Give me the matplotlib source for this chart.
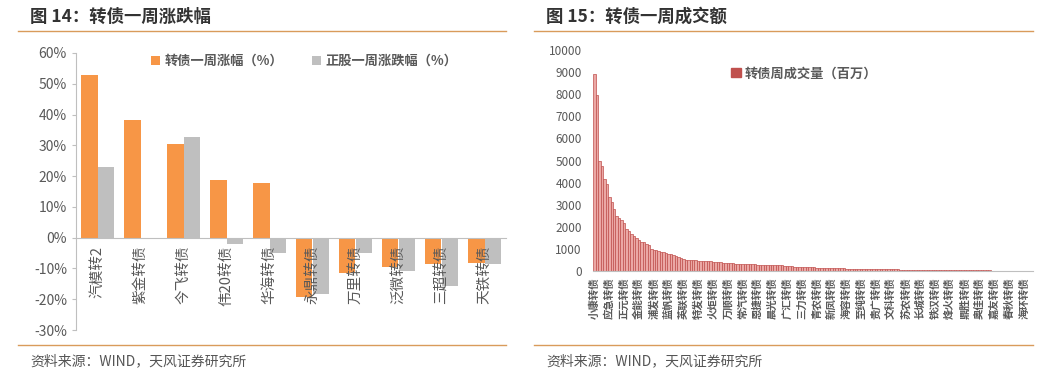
import matplotlib.pyplot as plt
from matplotlib.lines import Line2D
from matplotlib.patches import Patch
import numpy as np

plt.rcParams['font.family'] = ['Noto Sans CJK SC', 'DejaVu Sans']

# ---- 左图数据：转债一周涨跌幅 ----
bonds_left = ['汽模转2', '紫金转债', '今飞转债', '伟20转债', '华海转债',
              '永鼎转债', '万里转债', '泛微转债', '三超转债', '天铁转债']
bond_chg = [52.7, 38.1, 30.3, 18.6, 17.9, -19.2, -11.4, -9.4, -8.4, -8.1]
stock_chg = [22.9, -0.3, 32.7, -2.0, -5.1, -18.4, -4.9, -10.8, -15.7, -8.4]
yticks_left = [-30, -20, -10, 0, 10, 20, 30, 40, 50, 60]

# ---- 右图数据：转债周成交额（百万） ----
volume = [8900, 7950, 5000, 4740, 4180, 3950, 3330, 3100, 2810, 2470,
          2400, 2320, 2180, 1900, 1820, 1680, 1600, 1500, 1400, 1330,
          1290, 1220, 1180, 1000, 960, 950, 920, 880, 850, 800,
          780, 750, 720, 680, 640, 600, 560, 520, 500, 490,
          480, 480, 470, 460, 460, 450, 440, 430, 420, 410,
          400, 390, 380, 370, 360, 350, 340, 330, 325, 320,
          315, 310, 305, 300, 300, 295, 290, 285, 280, 280,
          275, 270, 265, 262, 260, 258, 255, 230, 225, 220,
          210, 200, 195, 190, 185, 180, 175, 170, 165, 160,
          150, 145, 140, 138, 135, 130, 128, 125, 122, 120,
          118, 115, 112, 110, 105, 100, 95, 92, 90, 88,
          86, 85, 84, 82, 80, 78, 77, 76, 75, 74,
          72, 70, 69, 68, 67, 66, 65, 64, 63, 62,
          61, 60, 58, 56, 55, 54, 52, 50, 48, 47,
          46, 45, 44, 42, 40, 38, 37, 36, 35, 34,
          33, 32, 31, 30, 29, 28, 27, 26, 25, 24,
          23, 22, 21, 20, 18, 17, 16, 15, 14, 13,
          12, 11, 10, 10, 9, 9, 8, 8]
tick_names = ['小康转债', '应急转债', '正元转债', '金能转债', '浦发转债', '蓝帆转债',
              '英联转债', '特发转债', '火炬转债', '万顺转债', '常汽转债', '恩捷转债',
              '晨光转债', '广汇转债', '三力转债', '青农转债', '新凤转债', '海容转债',
              '至纯转债', '贵广转债', '文科转债', '苏农转债', '长城转债', '铁汉转债',
              '烽火转债', '鼎胜转债', '奥佳转债', '嘉友转债', '春秋转债', '海环转债']
tick_step = 6

W, H = 1057, 377
fig = plt.figure(figsize=(W / 100, H / 100), dpi=100)

def box(x0, y0, x1, y1):
    # 像素坐标(左上原点) -> figure 坐标
    return [x0 / W, 1 - y1 / H, (x1 - x0) / W, (y1 - y0) / H]

line_c = '#D99B5B'
txt_c = '#595959'
axis_c = '#BFBFBF'

# 标题、分隔线、资料来源
for x0, x1, title in [(18, 506, '图 14：转债一周涨跌幅'), (534, 1033, '图 15：转债一周成交额')]:
    fig.text((x0 + 12) / W, 1 - 17 / H, title, fontsize=12.5, fontweight='bold',
             color='#333333', va='center')
    fig.add_artist(Line2D([x0 / W, x1 / W], [1 - 31 / H] * 2, color=line_c, lw=1))
    fig.add_artist(Line2D([x0 / W, x1 / W], [1 - 345 / H] * 2, color=line_c, lw=1))
    fig.text((x0 + 12) / W, 1 - 361 / H, '资料来源：WIND，天风证券研究所', fontsize=10,
             color='#555555', va='center')

# ---- 左图 ----
ax1 = fig.add_axes(box(76, 53, 506, 330))
x = np.arange(len(bonds_left))
w = 0.39
ax1.bar(x - w / 2, bond_chg, w, color='#F79646', label='转债一周涨幅（%）')
ax1.bar(x + w / 2, stock_chg, w, color='#BFBFBF', label='正股一周涨跌幅（%）')
ax1.set_xlim(-0.5, len(bonds_left) - 0.5)
ax1.set_ylim(-30, 60)
ax1.set_yticks(yticks_left)
ax1.set_yticklabels([f'{v}%' for v in yticks_left])
ax1.spines['top'].set_visible(False)
ax1.spines['right'].set_visible(False)
ax1.spines['bottom'].set_position(('data', 0))
ax1.spines['bottom'].set_color(axis_c)
ax1.spines['left'].set_color(axis_c)
ax1.set_xticks(x)
ax1.set_xticklabels(bonds_left, rotation=90, fontsize=10.5, color=txt_c)
ax1.tick_params(axis='x', length=0, pad=6)
ax1.tick_params(axis='y', length=3, colors=axis_c, labelcolor=txt_c, labelsize=10)
leg1 = ax1.legend(loc='upper center', bbox_to_anchor=(0.53, 1.04), ncol=2, frameon=False,
                  handlelength=0.7, handleheight=0.7, handletextpad=0.3, columnspacing=2.2,
                  prop={'size': 9.5, 'weight': 'bold'})
for t in leg1.get_texts():
    t.set_color(txt_c)

# ---- 右图 ----
ax2 = fig.add_axes(box(593, 50, 1033, 271))
xi = np.arange(len(volume))
ax2.bar(xi, volume, 1.0, facecolor='#EBA8A5', edgecolor='#C0504D', linewidth=0.5)
ax2.set_xlim(-0.6, len(volume) - 0.4)
ax2.set_ylim(0, 10000)
ax2.set_yticks(range(0, 10001, 1000))
for s in ['top', 'right', 'left']:
    ax2.spines[s].set_visible(False)
ax2.spines['bottom'].set_color(axis_c)
ax2.set_xticks(xi[::tick_step][:len(tick_names)])
ax2.set_xticklabels(tick_names, rotation=90, fontsize=7.5, fontweight='bold', color=txt_c)
ax2.tick_params(axis='x', length=0, pad=5)
ax2.tick_params(axis='y', length=0, labelcolor=txt_c, labelsize=8.5, pad=8)
leg2 = ax2.legend(handles=[Patch(color='#C0504D', label='转债周成交量（百万）')],
                  loc='upper center', bbox_to_anchor=(0.48, 0.98), frameon=False,
                  handlelength=0.7, handleheight=0.7, handletextpad=0.3,
                  prop={'size': 9.5, 'weight': 'bold'})
for t in leg2.get_texts():
    t.set_color(txt_c)

fig.savefig('out.png', dpi=100)
